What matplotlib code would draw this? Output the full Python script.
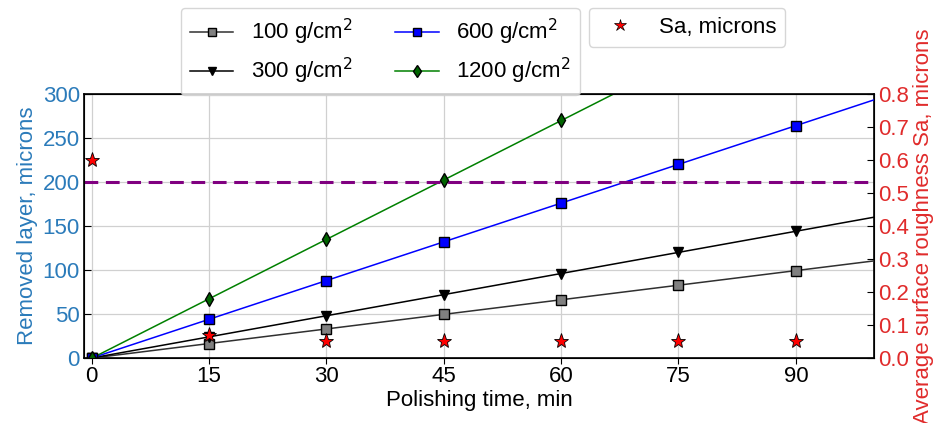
import numpy as np
import matplotlib
matplotlib.use("Agg")
import matplotlib.pyplot as plt
from matplotlib.lines import Line2D

plt.rcParams['font.family'] = ['Liberation Sans', 'DejaVu Sans']

time = [0, 15, 30, 45, 60, 75, 90]
layer_100 = [0, 16, 33, 50, 66, 83, 99]
layer_300 = [0, 24, 48, 72, 96, 120, 144]
layer_600 = [0, 44, 88, 132, 176, 220, 264]
layer_1200 = [0, 67, 135, 202, 270, 337, 405]
sa = [0.6, 0.07, 0.05, 0.05, 0.05, 0.05, 0.05]
threshold = 200
fit_range = [0, 100]

fig = plt.figure(figsize=(9.35, 4.23), dpi=100)
ax = fig.add_axes([0.0898, 0.1537, 0.8450, 0.6241])
ax2 = ax.twinx()

series = [
    (layer_100, '100 g/cm$^2$', '#303030', 's', 'gray'),
    (layer_300, '300 g/cm$^2$', 'black', 'v', 'black'),
    (layer_600, '600 g/cm$^2$', 'blue', 's', 'blue'),
    (layer_1200, '1200 g/cm$^2$', 'green', 'd', 'darkgreen'),
]
handles = []
for ys, lab, lc, mk, fc in series:
    k = np.polyfit(time, ys, 1)
    xf = np.array(fit_range)
    ax.plot(xf, np.polyval(k, xf), color=lc, lw=1.1, zorder=3)
    ax.plot(time, ys, linestyle='none', marker=mk, mfc=fc, mec='black',
            mew=1, ms=7 if mk != 'd' else 7.5, zorder=4)
    handles.append(Line2D([], [], color=lc, lw=1.1, marker=mk, mfc=fc,
                          mec='black', ms=6, label=lab))

ax.axhline(threshold, color='purple', lw=2.2, ls=(0, (4.5, 2.5)), zorder=3)

ax2.plot(time, sa, linestyle='none', marker='*', mfc='red', mec='black',
         mew=0.6, ms=11, zorder=5)
sa_handle = Line2D([], [], linestyle='none', marker='*', mfc='red',
                   mec='black', mew=0.5, ms=9, label='Sa, microns')

ax.set_xlim(-1, 100)
ax.set_ylim(0, 300)
ax2.set_ylim(0, 0.8)
ax.set_xticks(time)
ax.set_yticks(np.arange(0, 301, 50))
ax2.set_yticks(np.arange(0, 0.81, 0.1))
ax2.set_yticklabels([f'{v:.1f}' for v in np.arange(0, 0.81, 0.1)])

ax.grid(True, color='#d0d0d0', lw=0.9)
ax.set_axisbelow(True)

blue = '#2b7bba'
red = '#e02b2b'
fs = 16
ax.tick_params(axis='y', direction='in', labelsize=fs, colors=blue, length=5, pad=3)
ax.tick_params(axis='y', color='black')
ax.tick_params(axis='x', direction='out', labelsize=fs, length=4, pad=2)
ax2.tick_params(axis='y', direction='in', labelsize=fs, colors=red, length=5, pad=3)
ax2.tick_params(axis='y', color='black')
for t in ax.get_yticklabels():
    t.set_color(blue)
for t in ax2.get_yticklabels():
    t.set_color(red)

ax.set_xlabel('Polishing time, min', fontsize=fs, labelpad=2)
ax.set_ylabel('Removed layer, microns', fontsize=fs, color=blue, labelpad=3)
ax2.set_ylabel('Average surface roughness Sa, microns', fontsize=fs,
               color=red, labelpad=3)

for sp in ax.spines.values():
    sp.set_linewidth(1.2)

leg1 = fig.legend(handles=handles, loc='upper left',
                  bbox_to_anchor=(181 / 935, 1 - 8 / 423), borderaxespad=0,
                  ncol=2, fontsize=fs, handlelength=1.95, columnspacing=1.9,
                  handletextpad=0.8, frameon=True, borderpad=0.4,
                  labelspacing=0.4)
leg2 = fig.legend(handles=[sa_handle], loc='upper left',
                  bbox_to_anchor=(589 / 935, 1 - 8 / 423), borderaxespad=0,
                  fontsize=fs, frameon=True, borderpad=0.4,
                  handlelength=1.95, handletextpad=0.8)

fig.savefig('out.png', dpi=100)
